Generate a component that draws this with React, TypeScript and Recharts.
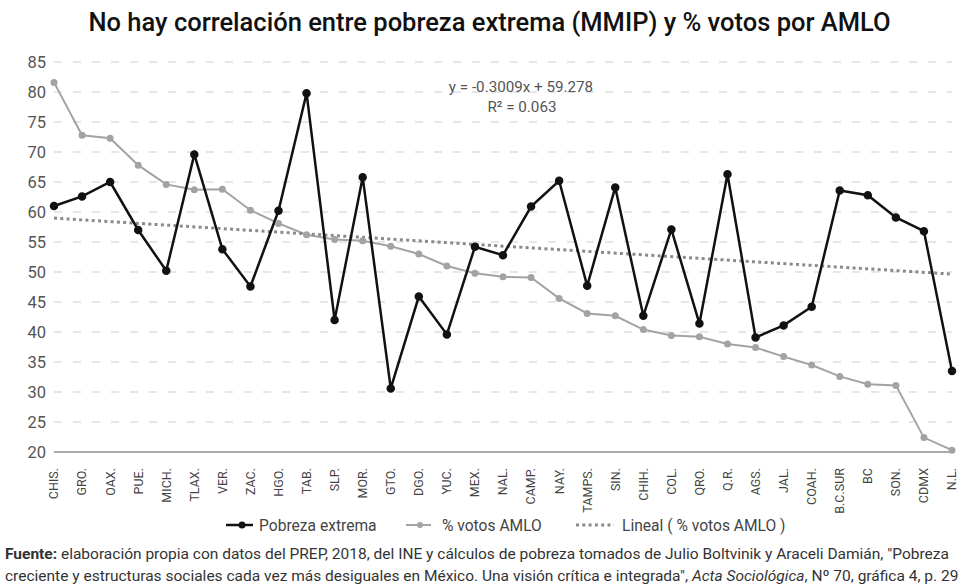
import React from 'react';
import {
  LineChart, Line, XAxis, YAxis, CartesianGrid, ReferenceLine,
} from 'recharts';

const states = [
  'CHIS.', 'GRO.', 'OAX.', 'PUE.', 'MICH.', 'TLAX.', 'VER.', 'ZAC.', 'HGO.', 'TAB.',
  'SLP.', 'MOR.', 'GTO.', 'DGO.', 'YUC.', 'MEX.', 'NAL.', 'CAMP.', 'NAY.', 'TAMPS.',
  'SIN.', 'CHIH.', 'COL.', 'QRO.', 'Q.R.', 'AGS.', 'JAL.', 'COAH.', 'B.C.SUR', 'BC',
  'SON.', 'CDMX', 'N.L.',
];

// Pobreza extrema (MMIP), %
const pobreza = [
  61.0, 62.6, 65.0, 57.0, 50.2, 69.6, 53.8, 47.6, 60.2, 79.8,
  42.0, 65.8, 30.6, 45.9, 39.6, 54.2, 52.8, 60.9, 65.2, 47.7,
  64.1, 42.7, 57.1, 41.4, 66.3, 39.1, 41.1, 44.2, 63.6, 62.8,
  59.1, 56.8, 33.5,
];

// % votos AMLO
const votos = [
  81.6, 72.8, 72.3, 67.8, 64.6, 63.7, 63.8, 60.3, 58.1, 56.2,
  55.4, 55.2, 54.3, 53.0, 51.0, 49.8, 49.2, 49.1, 45.6, 43.1,
  42.7, 40.4, 39.4, 39.2, 38.0, 37.4, 35.9, 34.5, 32.6, 31.3,
  31.1, 22.4, 20.3,
];

// linear trend of % votos AMLO, value at the first and last state
const trendEnds = [58.98, 49.65];

const yTicks = [20, 25, 30, 35, 40, 45, 50, 55, 60, 65, 70, 75, 80, 85];

const FONT = "Roboto, 'DejaVu Sans', sans-serif";

const rows = states.map((s, i) => ({ name: s, pobreza: pobreza[i], votos: votos[i] }));

function StateTick({ x, y, payload }: any) {
  return (
    <text
      transform={`translate(${x},${y + 8}) rotate(-90)`}
      textAnchor="end" dy="0.35em"
      fill="#444" fontSize={12.5} fontFamily={FONT}
    >
      {payload.value}
    </text>
  );
}

function LegendRow() {
  // drawn as a small svg strip under the axis labels
  return (
    <svg style={{ position: 'absolute', top: 512, left: 0 }} width={959} height={26}
      fontFamily={FONT} fontSize={15.6} fill="#444">
      <line x1={226} y1={13} x2={253} y2={13} stroke="#111" strokeWidth={2.5} />
      <circle cx={242} cy={13} r={3.5} fill="#111" />
      <text x={259} y={18.5}>Pobreza extrema</text>

      <line x1={406} y1={13} x2={431} y2={13} stroke="#a3a3a3" strokeWidth={2} />
      <circle cx={420} cy={13} r={3} fill="#a3a3a3" />
      <text x={442} y={18.5}>% votos AMLO</text>

      <line x1={576} y1={13} x2={614} y2={13} stroke="#8a8a8a" strokeWidth={3} strokeDasharray="3 3.3" />
      <text x={622} y={18.5}>Lineal ( % votos AMLO )</text>
    </svg>
  );
}

export default function App() {
  return (
    <div style={{
      position: 'absolute', left: 0, top: 0, width: 959, height: 587,
      background: '#fff', overflow: 'hidden',
    }}>
      <div style={{
        position: 'absolute', top: 7, left: 10, width: 959, textAlign: 'center',
        fontFamily: FONT, fontSize: 25.5, fontWeight: 500, color: '#111',
      }}>
        No hay correlación entre pobreza extrema (MMIP) y % votos por AMLO
      </div>

      <div style={{ position: 'absolute', top: 0, left: 0 }}>
        <LineChart width={959} height={520} data={rows}
          margin={{ top: 62, right: 7, left: 0, bottom: 8 }}>
          <CartesianGrid vertical={false} stroke="#dedede" strokeWidth={1.5} strokeDasharray="8 11" />
          <XAxis
            dataKey="name" interval={0} height={60}
            axisLine={{ stroke: '#aaa', strokeWidth: 2 }} tickLine={false}
            tick={<StateTick />}
          />
          <YAxis
            width={54} domain={[20, 85]} ticks={yTicks} interval={0}
            axisLine={false} tickLine={false}
            tick={{ fill: '#555', fontSize: 16.5, fontFamily: FONT }}
          />
          <Line
            dataKey="votos" stroke="#a3a3a3" strokeWidth={2}
            dot={{ r: 2.5, fill: '#a3a3a3', stroke: '#a3a3a3' }}
            isAnimationActive={false}
          />
          <ReferenceLine
            segment={[{ x: states[0], y: trendEnds[0] }, { x: states[states.length - 1], y: trendEnds[1] }]}
            stroke="#8a8a8a" strokeWidth={3} strokeDasharray="3 3.3"
          />
          <Line
            dataKey="pobreza" stroke="#111" strokeWidth={2.5}
            dot={{ r: 3, fill: '#111', stroke: '#111' }}
            isAnimationActive={false}
          />
          <text x={521} y={92} textAnchor="middle" fill="#555" fontSize={15.2} fontFamily={FONT}>
            y = -0.3009x + 59.278
          </text>
          <text x={522} y={112} textAnchor="middle" fill="#555" fontSize={15.2} fontFamily={FONT}>
            R² = 0.063
          </text>
        </LineChart>
      </div>

      <LegendRow />

      <div style={{
        position: 'absolute', top: 543, left: 5, width: 960, whiteSpace: 'nowrap',
        fontFamily: FONT, fontSize: 15.5, color: '#333', lineHeight: '22px',
      }}>
        <div><b>Fuente:</b> elaboración propia con datos del PREP, 2018, del INE y cálculos de pobreza tomados de Julio Boltvinik y Araceli Damián, "Pobreza</div>
        <div>creciente y estructuras sociales cada vez más desiguales en México. Una visión crítica e integrada", <i>Acta Sociológica</i>, Nº 70, gráfica 4, p. 29</div>
      </div>
    </div>
  );
}
